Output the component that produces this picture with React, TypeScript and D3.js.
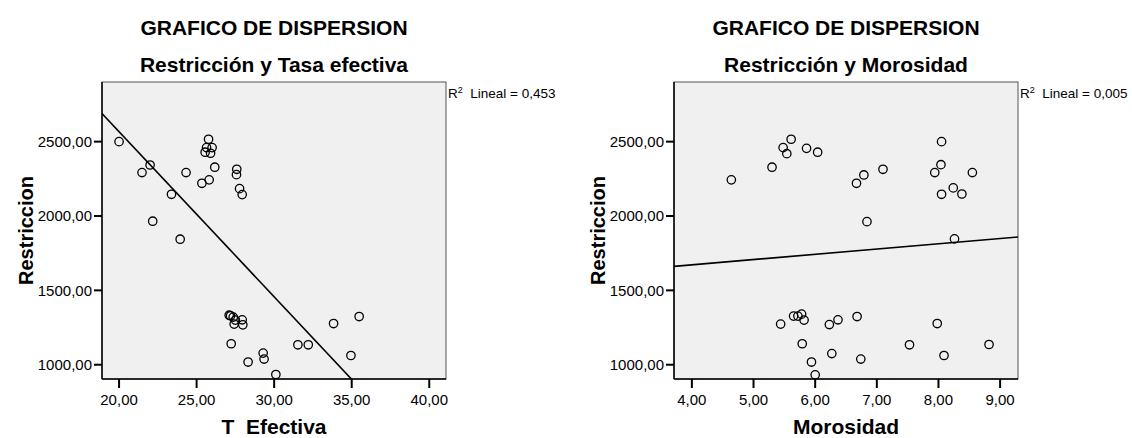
import React from "react";
import * as d3 from "d3";

// Tasa efectiva vs restricción
const tasaEfectiva = [
  20.0, 22.0, 21.48, 24.32, 23.38, 22.17, 25.77, 25.64, 26.0, 25.55, 25.9, 26.17,
  25.34, 25.81, 27.59, 27.57, 27.77, 27.94, 23.94,
  27.1, 27.19, 27.36, 27.94, 27.42, 27.98, 27.23, 29.29, 29.35, 28.32, 30.11,
  31.53, 32.2, 33.83, 35.48, 34.95, 27.5,
];
const restriccionTasa = [
  2500, 2343, 2292, 2292, 2146, 1965, 2516, 2460, 2460, 2429, 2422, 2328,
  2220, 2243, 2314, 2278, 2184, 2144, 1844,
  1333, 1329, 1320, 1302, 1273, 1268, 1141, 1078, 1038, 1018, 934,
  1134, 1134, 1277, 1324, 1062, 1300,
];

// Morosidad vs restricción
const morosidad = [
  4.64, 5.3, 5.48, 5.61, 5.54, 5.86, 6.04, 6.67, 6.79, 7.1, 6.84,
  8.05, 8.04, 7.94, 8.55, 8.24, 8.38, 8.05, 8.26,
  5.44, 5.65, 5.72, 5.78, 5.82, 5.79, 5.94, 6.0, 6.23, 6.37, 6.27, 6.68,
  6.74, 7.53, 7.98, 8.09, 8.82,
];
const restriccionMorosidad = [
  2243, 2328, 2460, 2516, 2419, 2455, 2429, 2220, 2276, 2314, 1962,
  2500, 2345, 2292, 2292, 2189, 2148, 2146, 1846,
  1273, 1327, 1327, 1340, 1300, 1141, 1018, 932, 1270, 1302, 1075, 1324,
  1038, 1134, 1277, 1062, 1136,
];

const restriccionTicks = [1000, 1500, 2000, 2500];
const tasaTicks = [20, 25, 30, 35, 40];
const morosidadTicks = [4, 5, 6, 7, 8, 9];

const FONT = "'Liberation Sans', Arial, Helvetica, sans-serif";
const fmt = (v: number) => v.toFixed(2).replace(".", ",");

// Ordinary least squares fit: returns [intercept, slope]
function linearFit(xs: number[], ys: number[]): [number, number] {
  const mx = d3.mean(xs) as number;
  const my = d3.mean(ys) as number;
  let sxy = 0;
  let sxx = 0;
  xs.forEach((x, i) => {
    sxy += (x - mx) * (ys[i] - my);
    sxx += (x - mx) * (x - mx);
  });
  const b = sxy / sxx;
  return [my - b * mx, b];
}

type PanelProps = {
  id: string;
  x0: number;
  xs: number[];
  ys: number[];
  xDomain: [number, number];
  xTicks: number[];
  subtitle: string;
  xLabel: string;
  r2: string;
};

function Panel({ id, x0, xs, ys, xDomain, xTicks, subtitle, xLabel, r2 }: PanelProps) {
  const fw = 344;
  const top = 82;
  const bottom = 379;
  const x = d3.scaleLinear().domain(xDomain).range([x0, x0 + fw]);
  const y = d3.scaleLinear().domain([904, 2901]).range([bottom, top]);
  const [a, b] = linearFit(xs, ys);
  const line = d3.line<number>()
    .x((v) => x(v))
    .y((v) => y(a + b * v));
  const cx = x0 + fw / 2;

  return (
    <g>
      <text x={cx} y={35} textAnchor="middle" fontFamily={FONT} fontWeight="bold" fontSize={21} fill="#000">
        GRAFICO DE DISPERSION
      </text>
      <text x={cx} y={72} textAnchor="middle" fontFamily={FONT} fontWeight="bold" fontSize={21} fill="#000">
        {subtitle}
      </text>

      <clipPath id={id}>
        <rect x={x0} y={top} width={fw} height={bottom - top} />
      </clipPath>
      <rect x={x0} y={top} width={fw} height={bottom - top} fill="#f0f0f0" stroke="#555" strokeWidth={1} />

      <g clipPath={`url(#${id})`}>
        <path d={line(xDomain) || ""} fill="none" stroke="#000" strokeWidth={1.6} />
        {xs.map((v, i) => (
          <circle key={i} cx={x(v)} cy={y(ys[i])} r={4.2} fill="none" stroke="#000" strokeWidth={1.3} />
        ))}
      </g>

      {/* axis lines */}
      <line x1={x0} x2={x0} y1={top} y2={bottom} stroke="#000" strokeWidth={1.5} />
      <line x1={x0} x2={x0 + fw} y1={bottom} y2={bottom} stroke="#000" strokeWidth={1.5} />

      {restriccionTicks.map((t) => (
        <g key={t}>
          <line x1={x0 - 8} x2={x0} y1={y(t)} y2={y(t)} stroke="#000" strokeWidth={2} />
          <text x={x0 - 10} y={y(t) + 5.5} textAnchor="end" fontFamily={FONT} fontSize={15} fill="#000">
            {fmt(t)}
          </text>
        </g>
      ))}
      {xTicks.map((t) => (
        <g key={t}>
          <line x1={x(t)} x2={x(t)} y1={bottom} y2={bottom + 9} stroke="#000" strokeWidth={2} />
          <text x={x(t)} y={405} textAnchor="middle" fontFamily={FONT} fontSize={15} fill="#000">
            {fmt(t)}
          </text>
        </g>
      ))}

      <text x={cx} y={434} textAnchor="middle" fontFamily={FONT} fontWeight="bold" fontSize={21} fill="#000" style={{ whiteSpace: "pre" }}>
        {xLabel}
      </text>
      <text
        transform={`translate(${x0 - 69},${(top + bottom) / 2}) rotate(-90)`}
        textAnchor="middle"
        fontFamily={FONT}
        fontWeight="bold"
        fontSize={20}
        fill="#000"
      >
        Restriccion
      </text>

      <text x={x0 + fw + 2} y={98} fontFamily={FONT} fontSize={13.5} fill="#000" style={{ whiteSpace: "pre" }}>
        R
        <tspan fontSize={9} dy={-5}>2</tspan>
        <tspan dy={5}>{"  Lineal = " + r2}</tspan>
      </text>
    </g>
  );
}

export default function App() {
  return (
    <svg
      width={1132}
      height={438}
      viewBox="0 0 1132 438"
      style={{ position: "absolute", left: 0, top: 0, background: "#fff" }}
    >
      <rect width={1132} height={438} fill="#fff" />
      <Panel
        id="clip-tasa"
        x0={102}
        xs={tasaEfectiva}
        ys={restriccionTasa}
        xDomain={[18.9, 41.08]}
        xTicks={tasaTicks}
        subtitle="Restricción y Tasa efectiva"
        xLabel="T  Efectiva"
        r2="0,453"
      />
      <Panel
        id="clip-morosidad"
        x0={674}
        xs={morosidad}
        ys={restriccionMorosidad}
        xDomain={[3.71, 9.29]}
        xTicks={morosidadTicks}
        subtitle="Restricción y Morosidad"
        xLabel="Morosidad"
        r2="0,005"
      />
    </svg>
  );
}
